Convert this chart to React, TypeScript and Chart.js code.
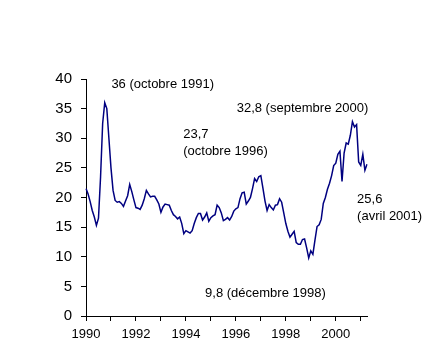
import React, { useEffect, useRef } from "react";
import { Chart, registerables } from "chart.js";

Chart.register(...registerables);

const startYear = 1990;
const monthCount = 136; // janvier 1990 .. avril 2001

const months: string[] = Array.from({ length: monthCount }, (_, i) => {
  const y = startYear + Math.floor(i / 12);
  const m = (i % 12) + 1;
  return `${y}-${m < 10 ? "0" + m : m}`;
});

const values1990 = [21.5, 20.6, 19.3, 17.8, 16.7, 15.3, 16.5, 23.5, 32.5, 36.0, 35.0, 30.0];
const values1991 = [25.0, 21.2, 19.5, 19.2, 19.3, 19.0, 18.5, 19.4, 20.3, 22.2, 21.0, 19.6];
const values1992 = [18.3, 18.2, 18.0, 18.7, 19.8, 21.2, 20.6, 20.1, 20.2, 20.2, 19.6, 18.9];
const values1993 = [17.5, 18.4, 18.9, 18.8, 18.7, 17.8, 17.1, 16.8, 16.4, 16.7, 15.6, 13.9];
const values1994 = [14.4, 14.2, 14.0, 14.4, 15.6, 16.6, 17.3, 17.3, 16.2, 16.7, 17.4, 16.0];
const values1995 = [16.6, 16.9, 17.1, 18.7, 18.3, 17.4, 16.1, 16.3, 16.6, 16.2, 16.8, 17.7];
const values1996 = [18.1, 18.3, 19.8, 20.8, 20.9, 18.9, 19.4, 20.0, 21.5, 23.2, 22.7, 23.5];
const values1997 = [23.7, 21.6, 19.4, 17.8, 18.8, 18.3, 17.9, 18.7, 18.8, 19.8, 19.2, 17.4];
const values1998 = [15.6, 14.3, 13.3, 13.8, 14.3, 12.4, 12.1, 12.1, 12.9, 13.0, 11.5, 9.8];
const values1999 = [11.0, 10.4, 12.8, 15.1, 15.4, 16.3, 19.0, 20.0, 21.4, 22.4, 23.7, 25.4];
const values2000 = [25.8, 27.3, 27.8, 22.7, 27.5, 29.2, 29.0, 30.5, 32.8, 31.9, 32.3, 26.0];
const values2001 = [25.4, 27.3, 24.6, 25.6];

const prices: number[] = [
  ...values1990, ...values1991, ...values1992, ...values1993, ...values1994, ...values1995,
  ...values1996, ...values1997, ...values1998, ...values1999, ...values2000, ...values2001,
];

const yTicks = [0, 5, 10, 15, 20, 25, 30, 35, 40];

// annotation texts, anchored in data units (month index, value)
const annotationTexts: string[][] = [
  ["36 (octobre 1991)"],
  ["32,8 (septembre 2000)"],
  ["23,7", "(octobre 1996)"],
  ["25,6", "(avril 2001)"],
  ["9,8 (décembre 1998)"],
];
const annotationAnchors: [number, number][] = [
  [12.2, 38.45],
  [72.4, 34.4],
  [46.7, 30.0],
  [130.25, 19.06],
  [57.2, 3.25],
];

const FONT = "'Liberation Sans', Arial, sans-serif";

const annotationPlugin = {
  id: "textAnnotations",
  afterDraw(chart: any) {
    const { ctx, scales } = chart;
    const xs = scales.x;
    const ys = scales.y;
    ctx.save();
    ctx.fillStyle = "#000";
    ctx.font = `13px ${FONT}`;
    ctx.textAlign = "left";
    ctx.textBaseline = "alphabetic";
    annotationTexts.forEach((lines, k) => {
      const [ix, v] = annotationAnchors[k];
      const px = xs.getPixelForValue(ix);
      const py = ys.getPixelForValue(v);
      lines.forEach((line, j) => ctx.fillText(line, px, py + j * 17.2));
    });
    ctx.restore();
  },
};

export default function App() {
  const ref = useRef<HTMLCanvasElement | null>(null);
  useEffect(() => {
    if (!ref.current) return;
    const chart = new Chart(ref.current, {
      type: "line",
      data: {
        labels: months,
        datasets: [
          {
            data: prices,
            borderColor: "#000080",
            borderWidth: 1.5,
            pointRadius: 0,
            tension: 0,
            fill: false,
          },
        ],
      },
      options: {
        responsive: false,
        animation: false,
        events: [],
        layout: { padding: { left: 0, right: 79, top: 79, bottom: 0 } },
        plugins: { legend: { display: false }, tooltip: { enabled: false } },
        scales: {
          x: {
            type: "category",
            offset: false,
            afterFit: (s: any) => {
              s.height = 46;
            },
            border: { display: true, color: "#000", width: 1 },
            grid: {
              drawOnChartArea: false,
              drawTicks: true,
              tickLength: 5,
              color: (c: any) => (c.index % 12 === 0 ? "#000" : "rgba(0,0,0,0)"),
            },
            ticks: {
              autoSkip: false,
              maxRotation: 0,
              minRotation: 0,
              padding: 6,
              color: "#000",
              font: { family: FONT, size: 13 },
              callback: (_v: any, i: number) => (i % 24 === 0 ? String(startYear + i / 12) : ""),
            },
          },
          y: {
            min: 0,
            max: 40,
            afterFit: (s: any) => {
              s.width = 86;
            },
            afterBuildTicks: (s: any) => {
              s.ticks = yTicks.map((v) => ({ value: v }));
            },
            border: { display: true, color: "#000", width: 1 },
            grid: { drawOnChartArea: false, drawTicks: true, tickLength: 5, color: "#000" },
            ticks: {
              padding: 9,
              color: "#000",
              font: { family: FONT, size: 15 },
            },
          },
        },
      },
      plugins: [annotationPlugin],
    });
    return () => chart.destroy();
  }, []);
  return (
    <div style={{ position: "absolute", left: 0, top: 0, width: 446, height: 362, background: "#fff" }}>
      <canvas ref={ref} width={446} height={362} />
    </div>
  );
}
